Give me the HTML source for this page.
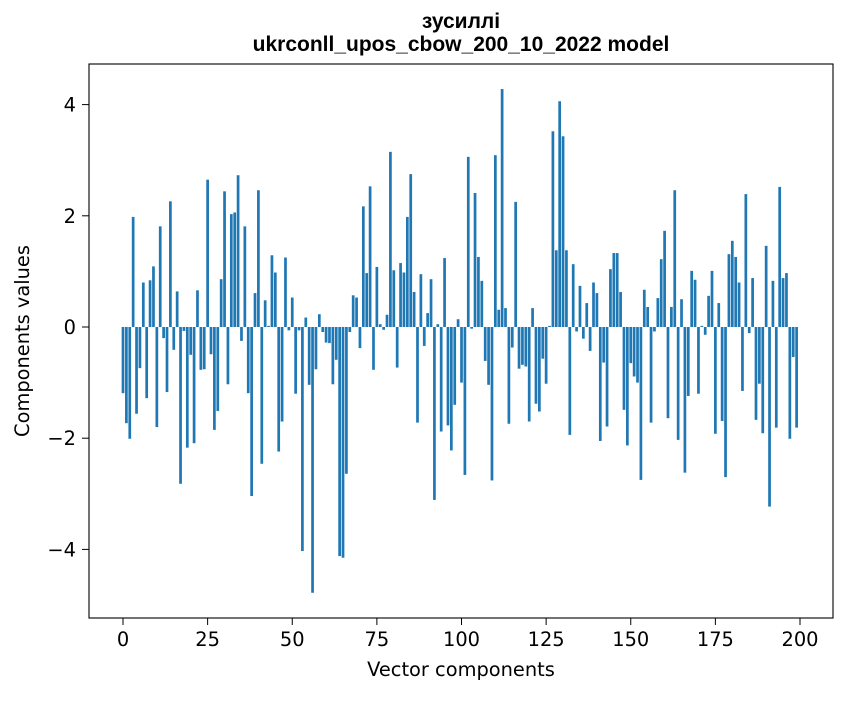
<!DOCTYPE html>
<html><head><meta charset="utf-8"><style>
body{margin:0;background:#fff;}
svg text{font-family:"DejaVu Sans","Liberation Sans",sans-serif;fill:#000;}
svg text.title{font-family:"Liberation Sans","DejaVu Sans",sans-serif;}
</style></head><body>
<svg id="chart" width="847" height="696" viewBox="0 0 847 696" xmlns="http://www.w3.org/2000/svg">
<rect width="847" height="696" fill="#fff"/>
<text class="title" x="461" y="28" text-anchor="middle" font-size="21" font-weight="bold">зусиллі</text>
<text class="title" x="461" y="51" text-anchor="middle" font-size="21" font-weight="bold">ukrconll_upos_cbow_200_10_2022 model</text>
<g id="bars"></g>
<g id="axes"></g>
<rect x="89" y="64" width="744" height="554" fill="none" stroke="#000" stroke-width="1.1"/>
<text x="461" y="676" text-anchor="middle" font-size="19.4">Vector components</text>
<text transform="translate(29,341) rotate(-90)" text-anchor="middle" font-size="19.4">Components values</text>
</svg>
<script>
const values = [
-1.19,-1.73,-2.01,1.98,-1.56,-0.74,0.80,-1.28,0.84,1.09,
-1.80,1.81,-0.20,-1.17,2.26,-0.41,0.64,-2.82,-0.07,-2.17,
-0.50,-2.09,0.66,-0.77,-0.76,2.65,-0.49,-1.85,-1.51,0.86,
2.44,-1.03,2.03,2.06,2.73,-0.25,1.81,-1.19,-3.04,0.61,
2.46,-2.46,0.48,0.02,1.29,0.98,-2.24,-1.70,1.25,-0.06,
0.53,-1.20,-0.06,-4.03,0.17,-1.04,-4.78,-0.76,0.23,-0.09,
-0.28,-0.29,-1.03,-0.59,-4.12,-4.15,-2.64,-0.09,0.57,0.53,
-0.38,2.17,0.97,2.53,-0.77,1.08,0.05,-0.05,0.22,3.15,
1.02,-0.73,1.15,0.98,1.98,2.75,0.63,-1.72,0.95,-0.34,
0.25,0.86,-3.11,0.05,-1.88,1.24,-1.77,-2.22,-1.40,0.14,
-1.00,-2.66,3.06,-0.03,2.41,1.26,0.83,-0.61,-1.04,-2.76,
3.09,0.31,4.28,0.34,-1.74,-0.37,2.25,-0.75,-0.68,-0.71,
-1.70,0.34,-1.38,-1.52,-0.57,-1.02,0.02,3.52,1.38,4.06,
3.43,1.38,-1.94,1.13,-0.08,0.74,-0.21,0.43,-0.43,0.80,
0.61,-2.05,-0.64,-1.79,1.04,1.33,1.33,0.63,-1.49,-2.13,
-0.65,-0.89,-1.00,-2.75,0.67,0.36,-1.72,-0.08,0.52,1.22,
1.73,-1.64,0.36,2.46,-2.03,0.50,-2.62,-1.24,1.01,0.85,
-1.20,0.02,-0.14,0.56,1.01,-1.92,0.43,-1.69,-2.70,1.31,
1.55,1.26,0.80,-1.15,2.39,-0.11,0.88,-1.67,-1.02,-1.91,
1.46,-3.23,0.83,-1.81,2.52,0.88,0.97,-2.01,-0.54,-1.81
];
const xTicks = [0,25,50,75,100,125,150,175,200];
const yTicks = [-4,-2,0,2,4];
const yTickLabels = ["\u22124","\u22122","0","2","4"];

const NS = "http://www.w3.org/2000/svg";
function xScale(v){ return 123 + v * 3.385; }
function yScale(v){ return 327 - v * 55.6; }
const bars = document.getElementById('bars');
values.forEach((v, i) => {
  const r = document.createElementNS(NS, 'rect');
  const y0 = yScale(0), y1 = yScale(v);
  r.setAttribute('x', xScale(i - 0.4));
  r.setAttribute('width', 0.8 * 3.385);
  r.setAttribute('y', Math.min(y0, y1));
  r.setAttribute('height', Math.max(Math.abs(y1 - y0), 0.3));
  r.setAttribute('fill', '#1f77b4');
  
  
  bars.appendChild(r);
});
const axes = document.getElementById('axes');
xTicks.forEach(t => {
  const l = document.createElementNS(NS, 'line');
  l.setAttribute('x1', xScale(t)); l.setAttribute('x2', xScale(t));
  l.setAttribute('y1', 618); l.setAttribute('y2', 625);
  l.setAttribute('stroke', '#000');
  
  
  axes.appendChild(l);
  const tx = document.createElementNS(NS, 'text');
  tx.setAttribute('x', xScale(t)); tx.setAttribute('y', 646);
  tx.setAttribute('text-anchor', 'middle'); tx.setAttribute('font-size', '19.4');
  tx.textContent = String(t);
  
  
  axes.appendChild(tx);
});
yTicks.forEach((t, i) => {
  const l = document.createElementNS(NS, 'line');
  l.setAttribute('x1', 82); l.setAttribute('x2', 89);
  l.setAttribute('y1', yScale(t)); l.setAttribute('y2', yScale(t));
  l.setAttribute('stroke', '#000');
  
  
  axes.appendChild(l);
  const tx = document.createElementNS(NS, 'text');
  tx.setAttribute('x', 76); tx.setAttribute('y', yScale(t) + 7);
  tx.setAttribute('text-anchor', 'end'); tx.setAttribute('font-size', '19.4');
  tx.textContent = yTickLabels[i];
  
  
  axes.appendChild(tx);
});
</script>
</body></html>
